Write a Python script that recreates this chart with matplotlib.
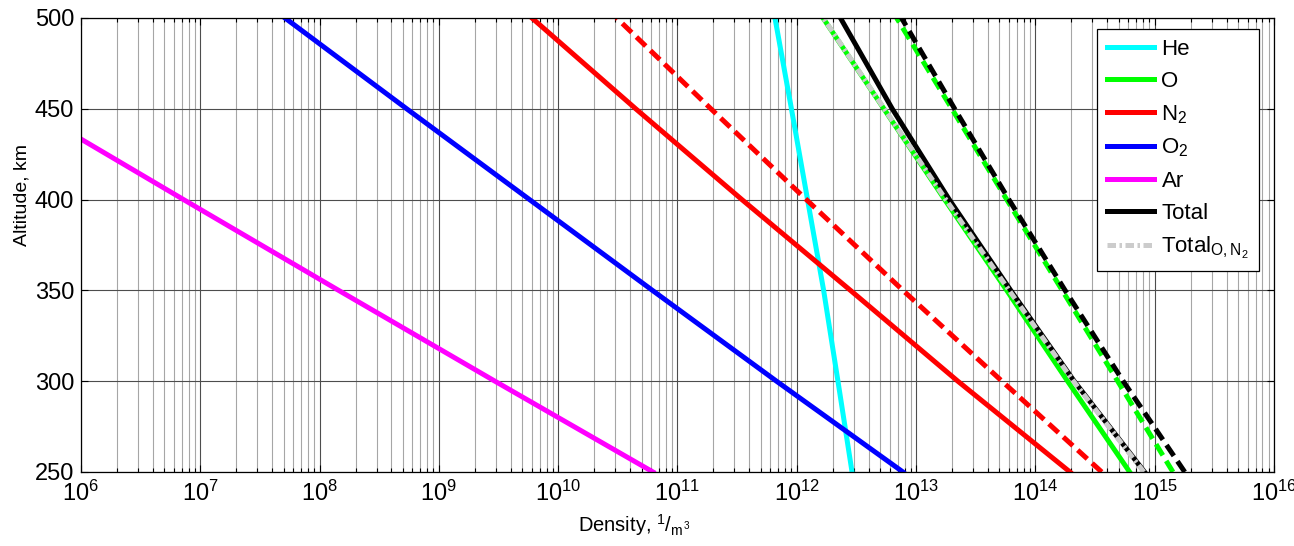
import numpy as np
import matplotlib
matplotlib.use("Agg")
import matplotlib.pyplot as plt
from matplotlib.ticker import LogLocator, FixedLocator, NullFormatter

plt.rcParams['font.family'] = ['Liberation Sans', 'DejaVu Sans']
plt.rcParams['mathtext.fontset'] = 'custom'
plt.rcParams['mathtext.rm'] = 'Liberation Sans'
plt.rcParams['mathtext.it'] = 'Liberation Sans'
plt.rcParams['mathtext.bf'] = 'Liberation Sans:bold'

# altitude grid, km
alt = [250, 300, 350, 400, 450, 500]

# log10 of number density (1/m^3) at each altitude
he_log = [12.463, 12.345, 12.225, 12.09, 11.955, 11.817]
o_log = [14.79, 14.27, 13.76, 13.24, 12.73, 12.22]
n2_log = [14.29, 13.35, 12.45, 11.54, 10.65, 9.78]
o2_log = [12.89, 11.83, 10.79, 9.76, 8.73, 7.71]
ar_log = [10.795, 9.47, 8.16, 6.86, 5.57, 4.29]
total_log = [14.915, 14.325, 13.793, 13.278, 12.80, 12.366]
total_on2_log = [14.909, 14.319, 13.780, 13.249, 12.733, 12.222]

# second case (dashed)
o_hi_log = [15.153, 14.69, 14.225, 13.76, 13.30, 12.837]
n2_hi_log = [14.556, 13.72, 12.89, 12.08, 11.28, 10.49]
total_hi_log = [15.252, 14.736, 14.249, 13.778, 13.323, 12.878]

def d(v):
    return 10.0 ** np.array(v)

fig = plt.figure(figsize=(12.94, 5.46), dpi=100)
ax = fig.add_axes([81/1294, 1-472/546, (1274-81)/1294, (472-18)/546])

lw = 3.6
ax.plot(d(he_log), alt, color='cyan', lw=lw, label='He')
ax.plot(d(o_log), alt, color=(0, 1, 0), lw=lw, label='O')
ax.plot(d(n2_log), alt, color='red', lw=lw, label=r'N$_2$')
ax.plot(d(o2_log), alt, color='blue', lw=lw, label=r'O$_2$')
ax.plot(d(ar_log), alt, color='magenta', lw=lw, label='Ar')
ax.plot(d(total_log), alt, color='black', lw=lw, label='Total')
ax.plot(d(total_on2_log), alt, color=(0.8, 0.8, 0.8), lw=lw,
        linestyle=(0, (1.7, 0.7, 0.5, 0.7)),
        label=r'Total$_{\mathrm{O,N_2}}$')

dash = (0, (2.6, 1.3))
ax.plot(d(n2_hi_log), alt, color='red', lw=lw, linestyle=dash)
ax.plot(d(o_hi_log), alt, color=(0, 1, 0), lw=lw, linestyle=dash)
ax.plot(d(total_hi_log), alt, color='black', lw=lw, linestyle=dash)

ax.set_xscale('log')
ax.set_xlim(1e6, 1e16)
ax.set_ylim(250, 500)
ax.set_yticks([250, 300, 350, 400, 450, 500])
ax.xaxis.set_major_locator(FixedLocator(10.0 ** np.arange(6, 17)))
ax.xaxis.set_minor_locator(LogLocator(base=10, subs=np.arange(2, 10), numticks=20))
ax.xaxis.set_minor_formatter(NullFormatter())

ax.grid(True, which='major', color='0.3', lw=0.8)
ax.grid(True, which='minor', axis='x', color='0.65', lw=0.8)
ax.set_axisbelow(True)

ax.tick_params(which='both', direction='in', top=True, right=True,
               labelsize=17, width=0.8, color='black')
ax.tick_params(which='major', length=5)
ax.tick_params(axis='x', which='major', pad=6)
ax.tick_params(axis='y', which='major', pad=5)
ax.tick_params(which='minor', length=3)
for s in ax.spines.values():
    s.set_linewidth(0.9)

ax.set_ylabel('Altitude, km', fontsize=14)
ax.yaxis.set_label_coords(-0.042, 0.61)
ax.set_xlabel(r'Density, $^{1}/_{m^{3}}$', fontsize=14.5)
ax.xaxis.set_label_coords(0.464, -0.088)

leg = ax.legend(loc='upper right', bbox_to_anchor=(0.9875, 0.976), fontsize=16,
                fancybox=False, framealpha=1, edgecolor='black',
                handlelength=2.1, handletextpad=0.35, labelspacing=0.5,
                borderpad=0.45, borderaxespad=0)
leg.get_frame().set_linewidth(0.9)

fig.savefig('out.png', dpi=100, facecolor='white')
